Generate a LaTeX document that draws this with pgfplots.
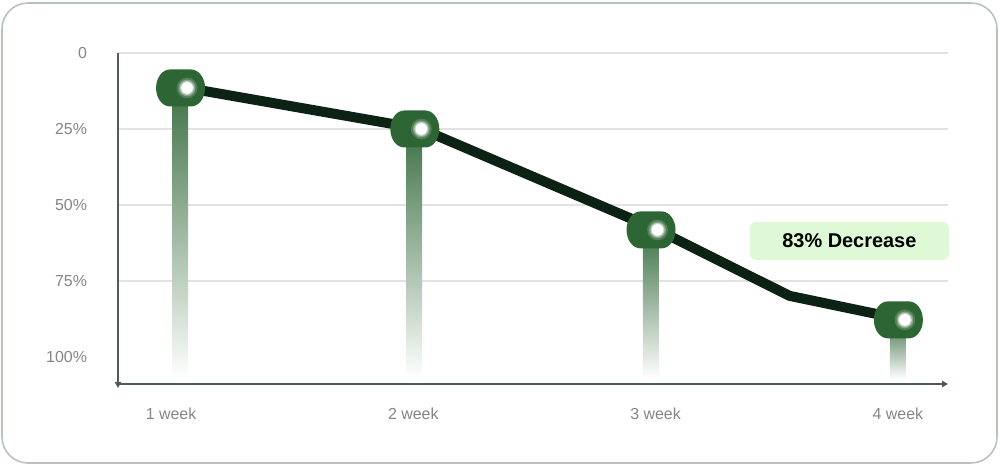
\documentclass[border=0pt]{standalone}
\usepackage{pgfplots}
\pgfplotsset{compat=1.18}
\usepackage{fontspec}
\setmainfont{Liberation Sans}
\usetikzlibrary{arrows.meta}

\definecolor{pillgreen}{HTML}{2E6535}
\definecolor{bargreen}{HTML}{3F7246}
\definecolor{linedark}{HTML}{0C2215}
\definecolor{ticktext}{HTML}{858585}
\definecolor{gridgray}{HTML}{E2E2E2}
\definecolor{axiscol}{HTML}{4D5C55}
\definecolor{framegray}{HTML}{BAC3BA}
\definecolor{tagfill}{HTML}{DFF9D7}

% pill-shaped marker, dot sits right of centre (basic layer only)
\pgfdeclareplotmark{pill}{%
  \begin{pgfscope}
    \pgfsetfillcolor{pillgreen}
    \pgfpathmoveto{\pgfpoint{-8.5bp}{-9.25bp}}
    \pgfpathlineto{\pgfpoint{2bp}{-9.25bp}}
    \pgfpatharc{-90}{0}{7bp and 9.25bp}
    \pgfpatharc{0}{90}{7bp and 9.25bp}
    \pgfpathlineto{\pgfpoint{-8.5bp}{9.25bp}}
    \pgfpatharc{90}{180}{7bp and 9.25bp}
    \pgfpatharc{180}{270}{7bp and 9.25bp}
    \pgfpathclose
    \pgfusepathqfill
  \end{pgfscope}
  \begin{pgfscope}
    \pgfsetfillcolor{white}
    \pgfsetfillopacity{0.18}
    \pgfpathcircle{\pgfpointorigin}{5.2bp}\pgfusepathqfill
    \pgfsetfillopacity{0.3}
    \pgfpathcircle{\pgfpointorigin}{4.2bp}\pgfusepathqfill
    \pgfsetfillopacity{0.5}
    \pgfpathcircle{\pgfpointorigin}{3.5bp}\pgfusepathqfill
    \pgfsetfillopacity{1}
    \pgfpathcircle{\pgfpointorigin}{2.9bp}\pgfusepathqfill
  \end{pgfscope}
}

\begin{document}
\begin{tikzpicture}
\useasboundingbox (-59bp,-40.5bp) rectangle (441bp,192bp);
\draw[framegray, line width=0.8bp, rounded corners=13bp]
  (-58bp,-39.5bp) rectangle (439.5bp,190.5bp);
\begin{axis}[
    at={(0,0)}, anchor=south west,
    scale only axis,
    width=415bp, height=165.5bp,
    xmin=0.781, xmax=4.207,
    ymin=0, ymax=108.9,
    y dir=reverse,
    clip=false,
    axis line style={draw=none},
    tick style={draw=none},
    xtick={1,2,3,4},
    xticklabels={1 week,2 week,3 week,4 week},
    ytick={0,25,50,75},
    yticklabels={0,25\%,50\%,75\%},
    extra y ticks={100},
    extra y tick labels={100\%},
    extra y tick style={grid=none},
    ymajorgrids=true,
    grid style={gridgray, line width=0.6bp},
    ticklabel style={font=\fontsize{8}{9.6}\selectfont, text=ticktext},
    yticklabel style={anchor=east, xshift=-12bp},
    xticklabel style={yshift=-8.5bp},
]

% fading stems under each marker
\addplot[draw=none, top color=bargreen, bottom color=white]
  coordinates {(1.004,11.5)(1.070,11.5)(1.070,107.2)(1.004,107.2)} -- cycle;
\addplot[draw=none, top color=bargreen, bottom color=white]
  coordinates {(1.970,25.0)(2.036,25.0)(2.036,107.2)(1.970,107.2)} -- cycle;
\addplot[draw=none, top color=bargreen, bottom color=white]
  coordinates {(2.948,58.2)(3.014,58.2)(3.014,107.2)(2.948,107.2)} -- cycle;
\addplot[draw=none, top color=bargreen, bottom color=white]
  coordinates {(3.967,87.8)(4.033,87.8)(4.033,107.2)(3.967,107.2)} -- cycle;

% the trend line
\addplot[linedark, line width=5bp, line join=round, line cap=round, mark=none]
  coordinates {(1.066,11.5)(2.033,25.0)(3.008,58.2)(3.553,79.9)(4.029,87.8)};

% markers
\addplot[only marks, mark=pill]
  coordinates {(1.066,11.5)(2.033,25.0)(3.008,58.2)(4.029,87.8)};

% axis lines
\draw[axiscol, line width=0.7bp, -{Triangle[length=3bp,width=3.2bp]}]
  (axis cs:0.781,0) -- (axis cs:0.781,110.2);
\draw[axiscol, line width=0.7bp, -{Triangle[length=3bp,width=3.2bp]}]
  (axis cs:0.781,108.9) -- (axis cs:4.207,108.9);

\node[fill=tagfill, rounded corners=3bp, minimum width=99.5bp, minimum height=19bp,
      font=\fontsize{10}{12}\selectfont\bfseries, inner sep=0pt]
  at (axis cs:3.800,61.8) {83\% Decrease};
\end{axis}
\end{tikzpicture}
\end{document}
